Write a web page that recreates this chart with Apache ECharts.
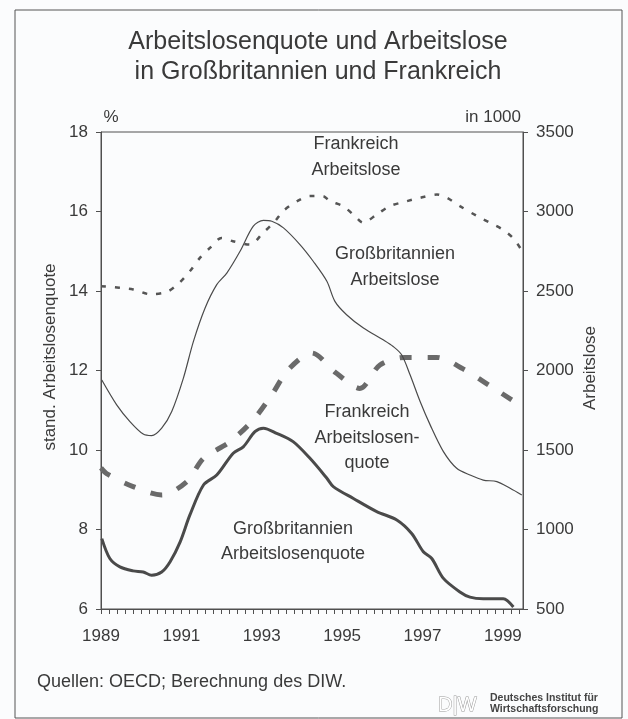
<!DOCTYPE html>
<html>
<head>
<meta charset="utf-8">
<script src="https://cdn.jsdelivr.net/npm/echarts@6/dist/echarts.min.js"></script>
<style>
  html, body { margin: 0; padding: 0; background: #fbfcfd; }
  #chart { width: 628px; height: 719px; }
</style>
</head>
<body>
<div id="chart"></div>
<script>
// x-axis start year, the axis runs in years since this
const baseYear = 1989;
const yearLabels = [1989, 1991, 1993, 1995, 1997, 1999];

// GB standardisierte Arbeitslosenquote (%)
const gbRateYears = [1989.02, 1989.22, 1989.47, 1989.80, 1990.05, 1990.26, 1990.51, 1990.72, 1990.97, 1991.21,
  1991.55, 1991.88, 1992.29, 1992.54, 1992.83, 1993.04, 1993.37, 1993.78, 1994.20, 1994.62,
  1994.78, 1995.28, 1995.86, 1996.36, 1996.73, 1997.02, 1997.23, 1997.52, 1997.93, 1998.18,
  1998.51, 1999.01, 1999.26];
const gbRate = [7.77, 7.27, 7.06, 6.96, 6.93, 6.85, 6.93, 7.19, 7.69, 8.36,
  9.12, 9.37, 9.92, 10.08, 10.46, 10.55, 10.42, 10.21, 9.79, 9.29,
  9.08, 8.78, 8.45, 8.24, 7.90, 7.44, 7.27, 6.77, 6.43, 6.30,
  6.26, 6.26, 6.05];

// Frankreich Arbeitslosenquote (%)
const frRateYears = [1989.0, 1989.15, 1989.80, 1990.51, 1991.13, 1991.55, 1992.21, 1992.79, 1993.25, 1993.66,
  1994.24, 1994.86, 1995.44, 1995.94, 1996.56, 1997.35, 1998.01, 1998.64, 1999.22];
const frRate = [9.55, 9.40, 9.08, 8.87, 9.20, 9.79, 10.21, 10.76, 11.39, 12.02,
  12.44, 11.93, 11.55, 12.14, 12.33, 12.33, 12.04, 11.64, 11.26];

// GB Arbeitslose (in 1000)
const gbJoblessYears = [1989.02, 1989.39, 1989.72, 1990.05, 1990.26, 1990.51, 1990.76, 1991.05, 1991.30, 1991.59,
  1991.88, 1992.13, 1992.46, 1992.79, 1993.04, 1993.25, 1993.54, 1993.95, 1994.28, 1994.62,
  1994.82, 1995.11, 1995.53, 1996.02, 1996.27, 1996.48, 1996.69, 1996.94, 1997.19, 1997.52,
  1997.85, 1998.18, 1998.51, 1998.85, 1999.18, 1999.47];
const gbJobless = [1940, 1784, 1679, 1600, 1590, 1637, 1742, 1952, 2183, 2393,
  2540, 2613, 2750, 2908, 2944, 2939, 2897, 2792, 2687, 2561,
  2435, 2351, 2267, 2193, 2151, 2099, 1973, 1805, 1658, 1490,
  1385, 1343, 1311, 1301, 1259, 1217];

// Frankreich Arbeitslose (in 1000)
const frJoblessYears = [1989.0, 1989.80, 1990.22, 1990.64, 1990.92, 1991.21, 1991.46, 1991.71, 1992.00, 1992.28,
  1992.71, 1993.03, 1993.33, 1993.53, 1993.88, 1994.20, 1994.52, 1994.70, 1995.02, 1995.32,
  1995.52, 1995.87, 1996.19, 1996.61, 1996.94, 1997.36, 1997.61, 1997.93, 1998.36, 1998.68,
  1998.98, 1999.25, 1999.45];
const frJobless = [2530, 2510, 2480, 2495, 2545, 2624, 2708, 2771, 2834, 2813,
  2792, 2865, 2939, 3002, 3065, 3097, 3097, 3065, 3034, 2971,
  2929, 2983, 3034, 3065, 3086, 3107, 3086, 3034, 2971, 2929,
  2889, 2834, 2763];

function pairs(years, values) {
  return years.map((y, i) => [+(y - baseYear).toFixed(3), values[i]]);
}

const textColor = '#3a3a3a';
const lineColor = '#505050';
const font = 'Liberation Sans, Arial, sans-serif';

const myChart = echarts.init(document.getElementById('chart'));

function label(text, x, y, size, extra) {
  return Object.assign({
    type: 'text',
    x: x, y: y,
    style: {
      text: text,
      fill: textColor,
      font: size + 'px ' + font,
      textAlign: 'center',
      textVerticalAlign: 'middle'
    }
  }, extra || {});
}

const option = {
  backgroundColor: '#fbfcfd',
  animation: false,
  grid: {
    left: 101, right: 105, top: 132, bottom: 110,
    show: true, borderColor: lineColor, borderWidth: 1
  },
  xAxis: {
    type: 'value',
    min: 0, max: 10.5, interval: 0.2,
    axisLine: { show: true, lineStyle: { color: lineColor, width: 1 } },
    axisTick: { show: true, length: 5, lineStyle: { color: lineColor } },
    splitLine: { show: false },
    axisLabel: {
      color: textColor, fontSize: 17, fontFamily: font, margin: 19,
      showMinLabel: true, showMaxLabel: false,
      formatter: v => {
        const r = Math.round(v);
        return (Math.abs(v - r) < 1e-6 && yearLabels.includes(baseYear + r)) ? String(baseYear + r) : '';
      }
    }
  },
  yAxis: [{
    type: 'value',
    min: 6, max: 18, interval: 2,
    position: 'left',
    axisLine: { show: true, lineStyle: { color: lineColor } },
    axisTick: { show: true, length: 5, lineStyle: { color: lineColor } },
    splitLine: { show: false },
    axisLabel: { color: textColor, fontSize: 17, fontFamily: font, margin: 13 }
  }, {
    type: 'value',
    min: 500, max: 3500, interval: 500,
    position: 'right',
    axisLine: { show: true, lineStyle: { color: lineColor } },
    axisTick: { show: true, length: 5, lineStyle: { color: lineColor } },
    splitLine: { show: false },
    axisLabel: { color: textColor, fontSize: 17, fontFamily: font, margin: 13, formatter: v => String(v) }
  }],
  series: [{
    name: 'Großbritannien Arbeitslosenquote',
    type: 'line', yAxisIndex: 0, smooth: 0.3, showSymbol: false,
    lineStyle: { color: '#4a4a4a', width: 3 },
    data: pairs(gbRateYears, gbRate)
  }, {
    name: 'Frankreich Arbeitslosenquote',
    type: 'line', yAxisIndex: 0, smooth: 0.3, showSymbol: false,
    lineStyle: { color: '#6a6a6a', width: 5, type: [12, 16] },
    data: pairs(frRateYears, frRate)
  }, {
    name: 'Großbritannien Arbeitslose',
    type: 'line', yAxisIndex: 1, smooth: 0.3, showSymbol: false,
    lineStyle: { color: '#4a4a4a', width: 1.2 },
    data: pairs(gbJoblessYears, gbJobless)
  }, {
    name: 'Frankreich Arbeitslose',
    type: 'line', yAxisIndex: 1, smooth: 0.3, showSymbol: false,
    lineStyle: { color: '#555', width: 2.5, type: [5, 9] },
    data: pairs(frJoblessYears, frJobless)
  }],
  graphic: [
    { type: 'rect', shape: { x: 15, y: 10, width: 607, height: 708 },
      style: { fill: 'none', stroke: '#555', lineWidth: 1 } },
    label('Arbeitslosenquote und Arbeitslose', 318, 42, 25, {}),
    label('in Großbritannien und Frankreich', 318, 72, 25, {}),
    label('%', 111, 117, 17),
    { type: 'text', x: 521, y: 117,
      style: { text: 'in 1000', fill: textColor, font: '17px ' + font, textAlign: 'right', textVerticalAlign: 'middle' } },
    label('stand. Arbeitslosenquote', 50, 357, 17, { rotation: Math.PI / 2 }),
    label('Arbeitslose', 590, 368, 17, { rotation: Math.PI / 2 }),
    label('Frankreich', 356, 144, 18),
    label('Arbeitslose', 356, 170, 18),
    label('Großbritannien', 395, 254, 18),
    label('Arbeitslose', 395, 280, 18),
    label('Frankreich', 367, 412, 18),
    label('Arbeitslosen-', 367, 438, 18),
    label('quote', 367, 463, 18),
    label('Großbritannien', 293, 529, 18),
    label('Arbeitslosenquote', 293, 554, 18),
    { type: 'text', x: 37, y: 682,
      style: { text: 'Quellen: OECD; Berechnung des DIW.', fill: textColor, font: '18px ' + font, textAlign: 'left', textVerticalAlign: 'middle' } },
    { type: 'text', x: 438, y: 705,
      style: { text: 'D|W', fill: '#fff', stroke: '#999', lineWidth: 1, font: '20px ' + font, textAlign: 'left', textVerticalAlign: 'middle' } },
    { type: 'text', x: 490, y: 698,
      style: { text: 'Deutsches Institut für', fill: '#444', font: 'bold 10.5px ' + font, textAlign: 'left', textVerticalAlign: 'middle' } },
    { type: 'text', x: 490, y: 709,
      style: { text: 'Wirtschaftsforschung', fill: '#444', font: 'bold 10.5px ' + font, textAlign: 'left', textVerticalAlign: 'middle' } }
  ]
};

myChart.setOption(option);
window.addEventListener('resize', () => myChart.resize(), false);
</script>
</body>
</html>
